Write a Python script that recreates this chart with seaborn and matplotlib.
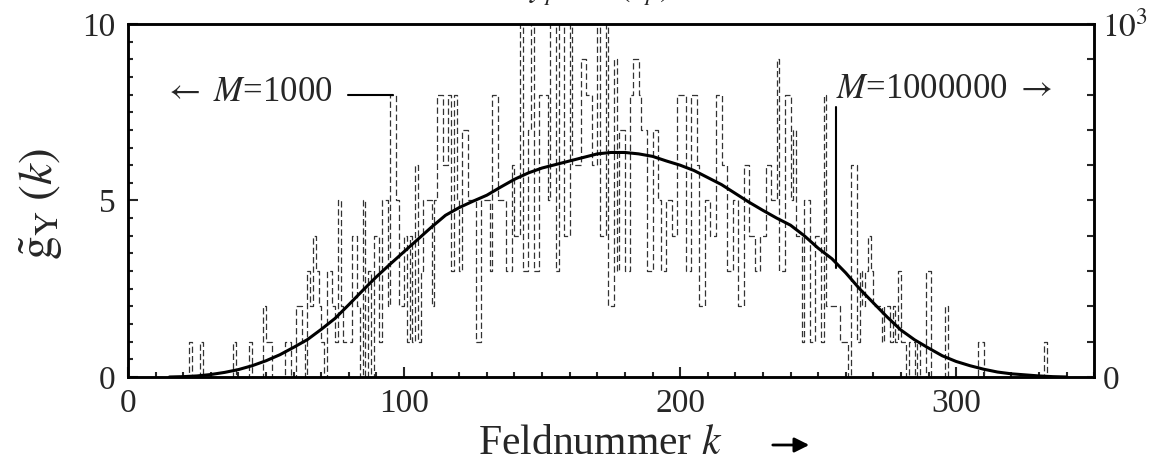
import numpy as np
import pandas as pd
import matplotlib
matplotlib.use("Agg")
import matplotlib.pyplot as plt
from matplotlib.ticker import MultipleLocator, FixedLocator, FixedFormatter
import seaborn as sns

# M = 1000: Besetzung je Feld k = 0 ... 349 (linke Achse, Werte > 10 abgeschnitten)
besetzung_m1000 = [
    0, 0, 0, 0, 0, 0, 0, 0, 0, 0,
    0, 0, 0, 0, 0, 0, 0, 0, 0, 0,
    0, 0, 1, 0, 0, 0, 1, 0, 0, 0,
    0, 0, 0, 0, 0, 0, 0, 0, 1, 0,
    0, 0, 0, 0, 1, 0, 0, 0, 0, 2,
    1, 1, 0, 0, 0, 0, 0, 1, 1, 0,
    0, 2, 2, 1, 0, 3, 2, 4, 3, 2,
    1, 0, 3, 3, 2, 1, 5, 2, 1, 1,
    1, 4, 4, 2, 0, 5, 0, 3, 0, 4,
    4, 1, 5, 5, 2, 8, 8, 5, 2, 2,
    4, 1, 4, 1, 6, 1, 3, 5, 5, 5,
    2, 5, 8, 8, 6, 6, 8, 3, 8, 5,
    3, 7, 7, 5, 5, 5, 1, 1, 5, 5,
    5, 3, 8, 8, 5, 5, 5, 3, 3, 6,
    4, 4, 11, 3, 3, 7, 12, 3, 3, 8,
    8, 8, 5, 11, 12, 3, 11, 12, 4, 4,
    11, 6, 6, 6, 9, 9, 8, 8, 6, 6,
    12, 4, 4, 11, 2, 2, 9, 3, 7, 7,
    3, 3, 8, 9, 9, 8, 7, 7, 3, 3,
    7, 7, 5, 3, 3, 5, 5, 4, 4, 8,
    8, 8, 3, 3, 8, 8, 6, 2, 2, 5,
    5, 4, 4, 8, 8, 6, 6, 3, 3, 5,
    5, 2, 2, 6, 6, 4, 4, 3, 3, 4,
    4, 6, 6, 5, 5, 9, 3, 3, 8, 8,
    5, 7, 4, 4, 1, 5, 5, 1, 1, 4,
    4, 1, 8, 2, 2, 2, 2, 2, 1, 1,
    1, 0, 6, 6, 1, 3, 2, 3, 4, 3,
    2, 2, 2, 1, 2, 2, 1, 2, 1, 3,
    1, 1, 0, 1, 1, 0, 1, 0, 0, 3,
    3, 0, 0, 0, 0, 0, 2, 0, 0, 0,
    0, 0, 0, 0, 0, 0, 0, 0, 1, 1,
    0, 0, 0, 0, 0, 0, 0, 0, 0, 0,
    0, 0, 0, 0, 0, 0, 0, 0, 0, 0,
    0, 0, 1, 0, 0, 0, 0, 0, 0, 0,
    0, 0, 0, 0, 0, 0, 0, 0, 0, 0,
]
feld_k = list(range(len(besetzung_m1000)))

kurve_k = [15, 20, 25, 30, 35, 40, 45, 50, 55, 60,
           65, 70, 75, 80, 85, 90, 95, 100, 105, 110,
           115, 120, 125, 130, 135, 140, 145, 150, 155, 160,
           165, 170, 175, 180, 185, 190, 195, 200, 205, 210,
           215, 220, 225, 230, 235, 240, 245, 250, 255, 260,
           265, 270, 275, 280, 285, 290, 295, 300, 305, 310,
           315, 320, 325, 330, 335, 340]
kurve_m1e6 = [0, 1, 3, 7, 13, 21, 32, 46, 63, 84,
              106, 135, 166, 205, 245, 284, 320, 355, 390, 425,
              458, 480, 498, 515, 538, 560, 578, 592, 602, 612,
              622, 632, 636, 636, 632, 625, 612, 600, 585, 565,
              545, 520, 495, 472, 450, 430, 400, 365, 335, 295,
              250, 210, 170, 133, 105, 82, 60, 44, 32, 22,
              14, 9, 6, 3, 1, 0]

x_ticks = [0, 100, 200, 300]

sns.set_theme(style="ticks")
plt.rcParams['font.family'] = ['Liberation Serif', 'DejaVu Serif']
plt.rcParams['mathtext.fontset'] = 'stix'

df_hist = pd.DataFrame({"k": feld_k + [len(feld_k)], "g": besetzung_m1000 + [0]})
df_kurve = pd.DataFrame({"k": kurve_k, "g": kurve_m1e6})

fig = plt.figure(figsize=(11.64, 4.71), dpi=100)
ax = fig.add_axes([0.110, 0.1996, 0.830, 0.7495])
ax2 = ax.twinx()

sns.lineplot(data=df_hist, x="k", y="g", ax=ax, estimator=None, drawstyle="steps-post",
             color="#333333", linewidth=0.9, dashes=(5, 2.5))
sns.lineplot(data=df_kurve, x="k", y="g", ax=ax2, estimator=None, color="black", linewidth=2.2)

ax.set_xlim(0, 350)
ax.set_ylim(0, 10)
ax2.set_ylim(0, 1000)

ax.xaxis.set_major_locator(FixedLocator(x_ticks))
ax.xaxis.set_minor_locator(MultipleLocator(10))
ax.yaxis.set_major_locator(MultipleLocator(5))
ax.yaxis.set_minor_locator(MultipleLocator(0.5))
ax2.yaxis.set_major_locator(FixedLocator([0, 1000]))
ax2.yaxis.set_major_formatter(FixedFormatter(["0", "$10^3$"]))
ax2.yaxis.set_minor_locator(MultipleLocator(100))

ax.tick_params(which="both", direction="in", top=False, right=False, labelsize=24, width=1.5)
ax.tick_params(which="major", length=7, pad=9)
ax.tick_params(which="minor", length=3.5)
ax.tick_params(axis="x", which="major", pad=8)
ax2.tick_params(which="both", direction="in", labelsize=24, width=1.5, length=5, pad=6)

for a in (ax, ax2):
    for s in a.spines.values():
        s.set_linewidth(1.8)
        s.set_color("black")

ax.set_xlabel("Feldnummer $k$", fontsize=30)
ax.xaxis.set_label_coords(0.489, -0.135)
ax.set_ylabel(r"$\tilde{\mathrm{g}}_{\mathrm{Y}}\;(k)$", fontsize=34)
ax.yaxis.set_label_coords(-0.066, 0.49)
ax2.set_ylabel("")

ax.annotate("", xy=(812 / 1164, 1 - 445 / 471), xytext=(770 / 1164, 1 - 445 / 471),
            xycoords="figure fraction", textcoords="figure fraction",
            arrowprops=dict(arrowstyle="-|>", lw=2, color="black", mutation_scale=22))

# Beschriftung der beiden Kurven
ax.text(12.7, 8.05, r"$\leftarrow$ $M$=1000", fontsize=25, va="center", ha="left")
ax.plot([79.7, 96], [8.0, 8.0], color="black", linewidth=1.5)
ax.text(256.5, 8.15, r"$M$=1000000 $\rightarrow$", fontsize=25, va="center", ha="left")
ax.plot([256.5, 256.5], [3.1, 7.66], color="black", linewidth=1.5)

# abgeschnittene Überschrift am oberen Rand
fig.text(600 / 1164, 1 + 4 / 471, r"$y_p = F\,(x_p)$", fontsize=25, ha="center", va="baseline")

fig.savefig("out.png", dpi=100)
